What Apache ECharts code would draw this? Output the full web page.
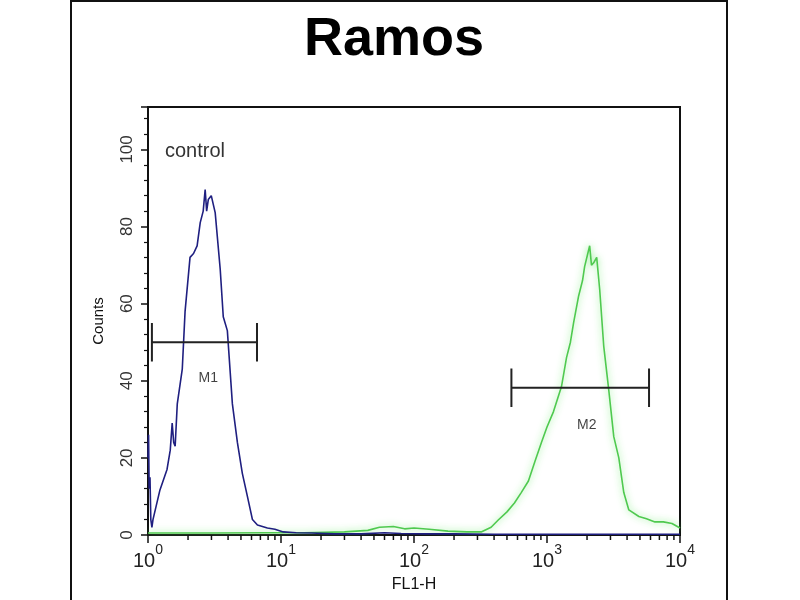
<!DOCTYPE html>
<html>
<head>
<meta charset="utf-8">
<script src="https://cdn.jsdelivr.net/npm/echarts@6/dist/echarts.min.js"></script>
<style>html,body{margin:0;padding:0;background:#fff}#c{width:800px;height:600px}</style>
</head>
<body>
<div id="c"></div>
<script>
// ---- data ----
const titleText = 'Ramos';
const sampleLabel = 'control';
const xAxisName = 'FL1-H';
const yAxisName = 'Counts';

const controlX = [1.0, 1.01, 1.02, 1.035, 1.05, 1.07, 1.09, 1.23, 1.39, 1.47, 1.52, 1.56, 1.6, 1.66, 1.81, 1.9, 2.07, 2.2, 2.34, 2.47, 2.6, 2.69, 2.76, 2.84, 2.99, 3.2, 3.49, 3.68, 3.95, 4.31, 4.7, 5.12, 5.59, 6.1, 6.65, 7.9, 9.0, 10.4, 13, 17, 25, 40, 60, 80, 120, 200, 400, 700, 1500, 3000, 6000, 10000];
const controlY = [20, 26, 12, 15, 4, 2, 4, 11.7, 17, 22, 29, 24, 23, 34, 43, 58, 72, 73, 75, 81, 84, 89.6, 84, 87, 88, 83.6, 69, 56.6, 53, 34, 24, 16, 10, 4, 2.6, 1.8, 1.5, 0.8, 0.6, 0.5, 0.3, 0.3, 0.6, 0.4, 0.3, 0.3, 0.2, 0.2, 0.2, 0.2, 0.2, 0.2];

const sampleX = [1.0, 3, 8, 15, 30, 45, 55, 70, 85, 100, 130, 180, 250, 320, 380, 430, 500, 569, 640, 725, 810, 908, 1000, 1119, 1285, 1402, 1500, 1584, 1729, 1850, 1918, 2093, 2160, 2243, 2364, 2491, 2670, 2911, 3177, 3467, 3779, 4123, 4907, 5600, 6477, 7500, 8702, 10000];
const sampleY = [0.5, 0.5, 0.6, 0.6, 0.8, 1.2, 2.0, 2.2, 1.6, 1.8, 1.5, 1.0, 0.8, 0.8, 2.0, 3.9, 6, 8.3, 11, 14, 19, 24, 28, 32, 38.5, 46, 50, 55, 62, 66, 69.6, 75, 70, 70.6, 72, 63.6, 49, 37.7, 25.5, 20, 11, 6.5, 4.8, 4.2, 3.4, 3.4, 3, 1.8];

// gates: [start, end, level]
const gateM1 = [1.07, 6.6, 50];
const gateM2 = [540, 5850, 38.2];
const gateNames = ['M1', 'M2'];
const gateLabelPos = [[2.84, 40.8], [1990, 28.6]];

const yTicks = [0, 20, 40, 60, 80, 100];
const xMinorTicks = [2,3,4,5,6,7,8,9,20,30,40,50,60,70,80,90,200,300,400,500,600,700,800,900,2000,3000,4000,5000,6000,7000,8000,9000];

// ---- build ----
const pairs = (xs, ys) => xs.map((x, i) => [x, ys[i]]);
const capH = 5;
function gatePath(g) {
  const [a, b, y] = g;
  return [[a, y + capH], [a, y - capH], [a, y], [b, y], [b, y + capH], [b, y - capH]];
}

const chart = echarts.init(document.getElementById('c'), null, {renderer: 'canvas'});
chart.setOption({
  backgroundColor: '#fff',
  animation: false,
  graphic: [
    {type: 'rect', shape: {x: 71, y: 1, width: 656, height: 640}, style: {fill: 'none', stroke: '#111', lineWidth: 2}, z: 0},
    {type: 'text', x: 394, y: 40, style: {text: titleText, font: 'bold 54px "Liberation Sans", Arial, sans-serif', fill: '#000', textAlign: 'center', textVerticalAlign: 'middle'}},
    {type: 'text', x: 165, y: 151, style: {text: sampleLabel, font: '20px "Liberation Sans", Arial, sans-serif', fill: '#333', textAlign: 'left', textVerticalAlign: 'middle'}}
  ],
  grid: {left: 148, right: 120, top: 107, bottom: 65, show: true, borderColor: '#111', borderWidth: 2, backgroundColor: 'transparent'},
  xAxis: {
    type: 'log', logBase: 10, min: 1, max: 10000,
    name: xAxisName, nameLocation: 'middle', nameGap: 42,
    nameTextStyle: {fontSize: 16, color: '#111', fontFamily: '"Liberation Sans Narrow", "Liberation Sans", Arial'},
    axisLine: {lineStyle: {color: '#111', width: 2}},
    axisTick: {show: true, length: 8, lineStyle: {color: '#111', width: 1.5}},
    splitLine: {show: false},
    axisLabel: {
      margin: 8, color: '#222',
      formatter: v => '{b|10}{s|' + Math.round(Math.log10(v)) + '}',
      rich: {
        b: {fontSize: 20, fontFamily: '"Liberation Sans", Arial', color: '#222', verticalAlign: 'bottom', padding: [8, 0, 0, 0]},
        s: {fontSize: 14, fontFamily: '"Liberation Sans", Arial', color: '#222', verticalAlign: 'top', padding: [0, 0, 8, 0]}
      }
    }
  },
  yAxis: {
    type: 'value', min: 0, max: 111, interval: 20,
    name: yAxisName, nameLocation: 'middle', nameGap: 42,
    nameTextStyle: {fontSize: 15, color: '#111', fontFamily: '"Liberation Sans", Arial'},
    axisLine: {lineStyle: {color: '#111', width: 2}},
    axisTick: {show: true, length: 7, lineStyle: {color: '#111', width: 1.5}},
    minorTick: {show: true, splitNumber: 5, length: 4, lineStyle: {color: '#111', width: 1.2}},
    splitLine: {show: false},
    axisLabel: {
      rotate: 90, margin: 12, fontSize: 17, color: '#333', fontFamily: '"Liberation Sans", Arial',
      formatter: v => (yTicks.indexOf(v) >= 0 ? String(v) : '')
    }
  },
  series: [
    {
      type: 'line', data: pairs(sampleX, sampleY), showSymbol: false, symbol: 'none',
      lineStyle: {color: '#4fc94f', width: 1.6, shadowBlur: 7, shadowColor: 'rgba(110,235,110,0.9)'},
      z: 3
    },
    {
      type: 'line', data: pairs(controlX, controlY), showSymbol: false, symbol: 'none',
      lineStyle: {color: '#1f1f80', width: 1.6},
      z: 4
    },
    {
      type: 'line', data: gatePath(gateM1), showSymbol: false, symbol: 'none',
      lineStyle: {color: '#222', width: 2}, z: 5
    },
    {
      type: 'line', data: gatePath(gateM2), showSymbol: false, symbol: 'none',
      lineStyle: {color: '#222', width: 2}, z: 5
    },
    {
      type: 'scatter', symbolSize: 0,
      data: gateLabelPos.map((p, i) => ({value: p, name: gateNames[i]})),
      label: {show: true, position: 'inside', formatter: p => p.name, fontSize: 14, color: '#111', fontFamily: '"Liberation Sans Narrow", "Liberation Sans", Arial'},
      z: 6
    },
    {
      type: 'custom', data: xMinorTicks.map(v => [v, 0]), clip: false, silent: true,
      renderItem: (params, api) => {
        const p = api.coord([api.value(0), 0]);
        return {type: 'line', shape: {x1: p[0], y1: p[1], x2: p[0], y2: p[1] + 5}, style: {stroke: '#111', lineWidth: 1.5}};
      },
      z: 6
    }
  ]
});
</script>
</body>
</html>
